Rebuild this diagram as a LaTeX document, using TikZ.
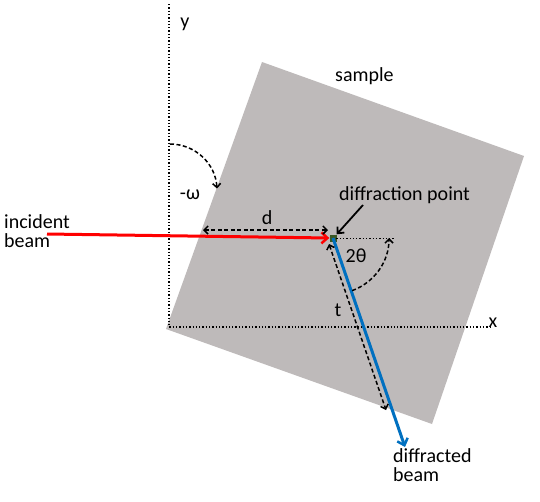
\documentclass[tikz,border=0pt]{standalone}
\usepackage{fontspec}
\setmainfont{Carlito}
\usepackage{tikz}
\usetikzlibrary{positioning}
\usetikzlibrary{arrows.meta}
\definecolor{samplegray}{RGB}{190,186,186}
\definecolor{ptgreen}{RGB}{56,87,35}
\definecolor{beamred}{RGB}{255,0,0}
\definecolor{beamblue}{RGB}{0,112,192}
\tikzset{every node/.style={font=\fontsize{20}{19}\selectfont},
  label/.style={inner sep=0pt, align=left},
  axis/.style={line width=1.3pt, dotted},
  beam/.style={line width=3pt, -{Straight Barb[length=6pt,width=11pt,line width=2.5pt]}},
  measure/.style={line width=1.5pt, dash pattern=on 4pt off 2.5pt, >={Straight Barb[length=4pt,width=8pt]}}}

\begin{document}
\begin{tikzpicture}[x=1pt,y=1pt]
\useasboundingbox (0,0) rectangle (540,-501);
\fill[samplegray] (262,-62) -- (524,-156) -- (432,-424) -- (166,-329) -- cycle;

\coordinate (o) at (169,-327);
\coordinate (ytop) at (169,-4);
\coordinate (xend) at (490,-327);
\draw[axis] (ytop) -- (o) -- (xend);
\node (ylab) at (185,-24) {y};
\node (xlab) at (493,-323) {x};

\node (dp) [fill=ptgreen, minimum size=7pt, inner sep=0pt] at (333,-238) {};
\coordinate (inc) at (47,-234);
\coordinate (dif) at (405,-447);
\coordinate (href) at (395,-238);
\draw[axis, line width=1pt] (dp.center) -- (href);

\draw[beam, beamred] (inc) -- (dp.west);
\draw[beam, beamblue] (dp.center) -- (dif);

\node (inclab) [label, anchor=north west] at (4,-214) {incident\\beam};
\node (diflab) [label, anchor=north west] at (393,-448) {diffracted\\beam};
\node (samplab) [label, anchor=base west] at (335,-81) {sample};
\node (dplab) [label, anchor=base west] at (339,-200) {diffraction point};
\draw[line width=1.8pt, -{Straight Barb[length=5pt,width=9pt]}] (363,-205) -- (dp.north east);

% d
\coordinate (d1) at (203,-230);
\coordinate (d2) at (328,-230);
\draw[measure, <->] (d1) -- (d2);
\node (dlab) at (267,-218) {d};

% t
\coordinate (t1) at (329,-244);
\coordinate (t2) at (386,-410);
\draw[measure, <->] (t1) -- (t2);
\node (tlab) at (338,-310) {t};

% angles
\draw[measure, ->] (dp.center) ++(-70:56) arc[start angle=-70, end angle=0, radius=56];
\node (thlab) at (356,-256) {2θ};
\draw[measure, ->] (170,-144) arc[start angle=90, end angle=3, radius=47];
\node (omlab) at (190,-195) {-ω};
\end{tikzpicture}
\end{document}
